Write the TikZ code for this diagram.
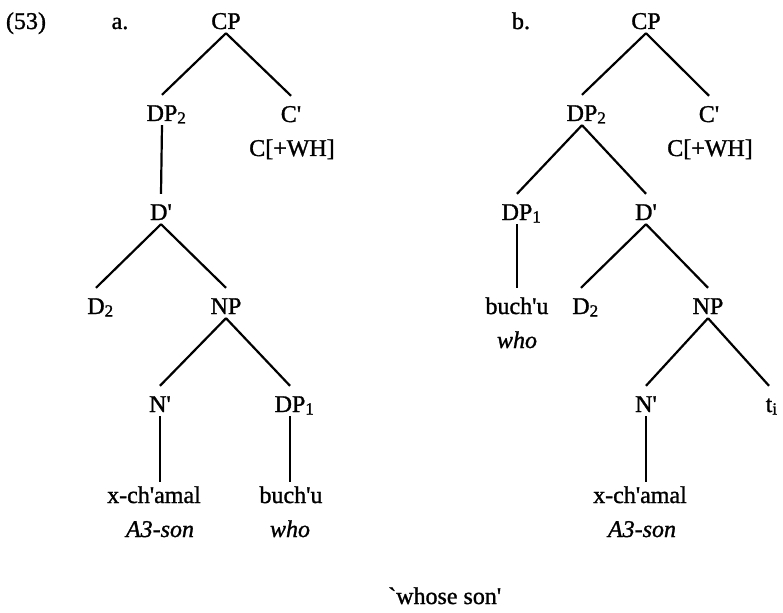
\documentclass[tikz,border=0pt]{standalone}
\usepackage{fontspec}
\setmainfont{Liberation Serif}[Ligatures=TeXOff, FakeBold=1.2]
\newcommand\treesize{\fontsize{24}{28}\selectfont}
\newcommand\sbs[1]{\rlap{\raisebox{-2.5pt}{\fontsize{17}{17}\selectfont #1}}}
\tikzset{
  lab/.style={font=\treesize, inner sep=0pt, anchor=base, text height=26pt, text depth=4pt},
  leaf/.style={font=\treesize, inner sep=0pt, anchor=base, text height=21pt, text depth=4pt},
  plain/.style={font=\treesize, inner sep=0pt, anchor=base},
  edge/.style={line width=2.2pt, line cap=butt}
}
\begin{document}
\begin{tikzpicture}[x=1pt,y=-1pt]
\useasboundingbox (0,0) rectangle (783,612);
% labels
\node[plain] (ex) at (26,29) {(53)};
\node[plain] (la) at (120,29) {a.};
\node[plain] (lb) at (521,29) {b.};
% tree a
\node[lab] (cpa) at (226,29) {CP};
\node[lab] (dptwoa) at (162,121) {DP\sbs{2}};
\node[lab] (cbara) at (291,122) {C'};
\node[plain] (cwha) at (292,156) {C[+WH]};
\node[lab] (dbara) at (161,220) {D'};
\node[lab] (dtwoa) at (96,314) {D\sbs{2}};
\node[lab] (npa) at (226,314) {NP};
\node[lab] (nbara) at (160,412) {N'};
\node[lab] (dponea) at (290,412) {DP\sbs{1}};
\node[leaf] (xcha) at (154,503) {x-ch'amal};
\node[plain] (sona) at (160,537) {\textit{A3-son}};
\node[leaf] (bucha) at (291,503) {buch'u};
\node[plain] (whoa) at (290,537) {\textit{who}};
\draw[edge] (cpa.south) -- (dptwoa.north);
\draw[edge] (cpa.south) -- (cbara.north);
\draw[edge] (dptwoa.south) -- (dbara.north);
\draw[edge] (dbara.south) -- (dtwoa.north);
\draw[edge] (dbara.south) -- (npa.north);
\draw[edge] (npa.south) -- (nbara.north);
\draw[edge] (npa.south) -- (dponea.north);
\draw[edge] (nbara.south) -- (nbara.south |- xcha.north);
\draw[edge] (dponea.south) -- (dponea.south |- bucha.north);
% tree b
\node[lab] (cpb) at (646,29) {CP};
\node[lab] (dptwob) at (582,121) {DP\sbs{2}};
\node[lab] (cbarb) at (709,122) {C'};
\node[plain] (cwhb) at (710,156) {C[+WH]};
\node[lab] (dponeb) at (517,220) {DP\sbs{1}};
\node[lab] (dbarb) at (646,220) {D'};
\node[lab] (buchb) at (517,314) {buch'u};
\node[plain] (whob) at (517,348) {\textit{who}};
\node[lab] (dtwob) at (581,314) {D\sbs{2}};
\node[lab] (npb) at (708,314) {NP};
\node[lab] (nbarb) at (646,412) {N'};
\node[lab] (tib) at (769,412) {t\sbs{i}};
\node[leaf] (xchb) at (640,503) {x-ch'amal};
\node[plain] (sonb) at (642,537) {\textit{A3-son}};
\draw[edge] (cpb.south) -- (dptwob.north);
\draw[edge] (cpb.south) -- (cbarb.north);
\draw[edge] (dptwob.south) -- (dponeb.north);
\draw[edge] (dptwob.south) -- (dbarb.north);
\draw[edge] (dponeb.south) -- (buchb.north);
\draw[edge] (dbarb.south) -- (dtwob.north);
\draw[edge] (dbarb.south) -- (npb.north);
\draw[edge] (npb.south) -- (nbarb.north);
\draw[edge] (npb.south) -- (tib.north);
\draw[edge] (nbarb.south) -- (nbarb.south |- xchb.north);
% gloss
\node[plain, anchor=base west] (gloss) at (388,604) {`whose son'};
\end{tikzpicture}
\end{document}
